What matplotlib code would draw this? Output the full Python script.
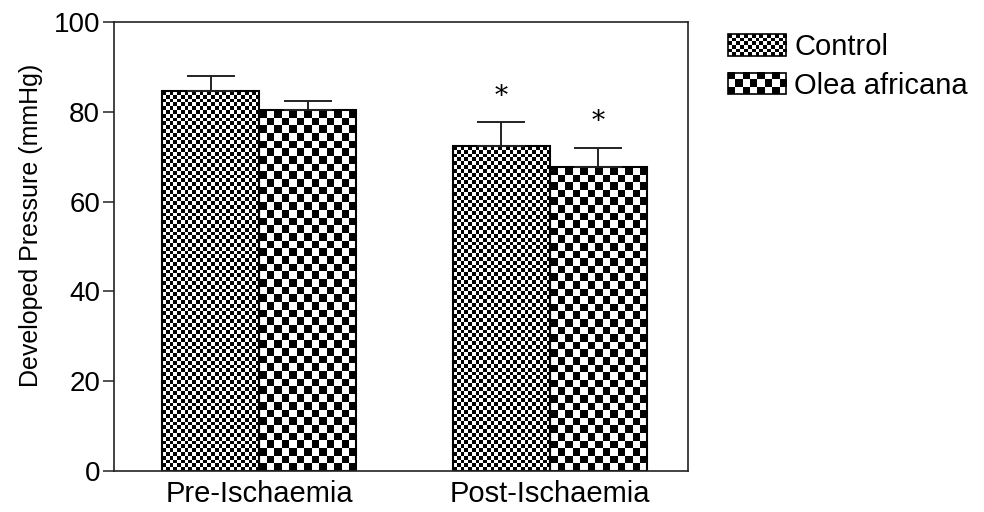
import numpy as np
import matplotlib
matplotlib.use('Agg')
import matplotlib.pyplot as plt
from matplotlib.patches import Rectangle
from matplotlib.legend_handler import HandlerBase
from matplotlib.image import BboxImage
from matplotlib.transforms import Bbox, TransformedBbox
from matplotlib.colors import Normalize

plt.rcParams['font.family'] = ['Liberation Sans', 'DejaVu Sans']

groups = ['Pre-Ischaemia', 'Post-Ischaemia']
series = ['Control', 'Olea africana']
control_vals = [84.7, 72.4]
control_err = [3.4, 5.3]
olea_vals = [80.4, 67.7]
olea_err = [2.1, 4.3]
signif_control = [False, True]
signif_olea = [False, True]

cell_px = {'Control': 3.8, 'Olea africana': 7.6}


def checker(rows, cols):
    r = np.arange(rows)[:, None]
    c = np.arange(cols)[None, :]
    return ((r + c) % 2).astype(float)


class CheckerHandler(HandlerBase):
    def __init__(self, cols, rows):
        super().__init__()
        self.cols = cols
        self.rows = rows

    def create_artists(self, legend, orig_handle, xdescent, ydescent,
                       width, height, fontsize, trans):
        bb = TransformedBbox(Bbox.from_bounds(-xdescent, -ydescent, width, height), trans)
        img = BboxImage(bb, cmap='gray', norm=Normalize(0, 1), interpolation='nearest')
        img.set_data(checker(self.rows, self.cols))
        rect = Rectangle((-xdescent, -ydescent), width, height, facecolor='none',
                         edgecolor='black', lw=1.2, transform=trans)
        return [img, rect]


fig = plt.figure(figsize=(9.84, 5.12), dpi=100)
ax = fig.add_axes([114 / 984, (512 - 470.7) / 512, (688 - 114) / 984, 448.4 / 512])

x = np.arange(len(groups))
w = 0.334
ax.set_xlim(-0.5, 1.475)
ax.set_ylim(0, 100)

bars_c = ax.bar(x - w / 2, control_vals, w, facecolor='none', edgecolor='black', lw=1.5, zorder=2)
bars_o = ax.bar(x + w / 2, olea_vals, w, facecolor='none', edgecolor='black', lw=1.5, zorder=2)

# fill each bar with a checkerboard image
for bars, name in [(bars_c, 'Control'), (bars_o, 'Olea africana')]:
    for rect in bars:
        x0, y0 = rect.get_x(), rect.get_y()
        x1, y1 = x0 + rect.get_width(), y0 + rect.get_height()
        (px0, py0), (px1, py1) = ax.transData.transform([(x0, y0), (x1, y1)])
        cols = max(1, int(round((px1 - px0) / cell_px[name])))
        rows = max(1, int(round((py1 - py0) / cell_px[name])))
        im = ax.imshow(checker(rows, cols), extent=[x0, x1, y0, y1], cmap='gray',
                       vmin=0, vmax=1, interpolation='nearest', aspect='auto', zorder=1)
        im.set_clip_path(rect)

ax.errorbar(x - w / 2, control_vals, yerr=[np.zeros(2), control_err], fmt='none',
            ecolor='#222222', elinewidth=1.4, capsize=17.5, capthick=1.4, zorder=3)
ax.errorbar(x + w / 2, olea_vals, yerr=[np.zeros(2), olea_err], fmt='none',
            ecolor='#222222', elinewidth=1.4, capsize=17.5, capthick=1.4, zorder=3)

for i in range(len(groups)):
    if signif_control[i]:
        ax.text(x[i] - w / 2, control_vals[i] + control_err[i] + 5.8, '*', ha='center',
                va='center', fontsize=19, family='DejaVu Serif')
    if signif_olea[i]:
        ax.text(x[i] + w / 2, olea_vals[i] + olea_err[i] + 5.8, '*', ha='center',
                va='center', fontsize=19, family='DejaVu Serif')

ax.set_xlim(-0.5, 1.475)
ax.set_ylim(0, 100)
ax.set_yticks([0, 20, 40, 60, 80, 100])
ax.set_xticks(x)
ax.set_xticklabels(groups, fontsize=21)
ax.tick_params(axis='x', length=0, pad=7)
ax.tick_params(axis='y', length=8, width=1.1, pad=2, labelsize=20, color='#222222')
for sp in ax.spines.values():
    sp.set_linewidth(1.2)
    sp.set_color('#222222')

ax.set_ylabel('Developed Pressure (mmHg)', fontsize=18)
ax.yaxis.set_label_coords(-0.124, 0.546)

h1 = Rectangle((0, 0), 1, 1, label=series[0])
h2 = Rectangle((0, 0), 1, 1, label=series[1])
fig.legend(handles=[h1, h2], labels=series, loc='upper left',
           bbox_to_anchor=(728 / 984, 1 - 33 / 512), frameon=False, fontsize=21,
           borderpad=0, borderaxespad=0, handlelength=2.0, handleheight=0.75,
           handletextpad=0.28, labelspacing=0.36,
           handler_map={h1: CheckerHandler(15, 6), h2: CheckerHandler(8, 3)})

fig.savefig('out.png', dpi=100)
